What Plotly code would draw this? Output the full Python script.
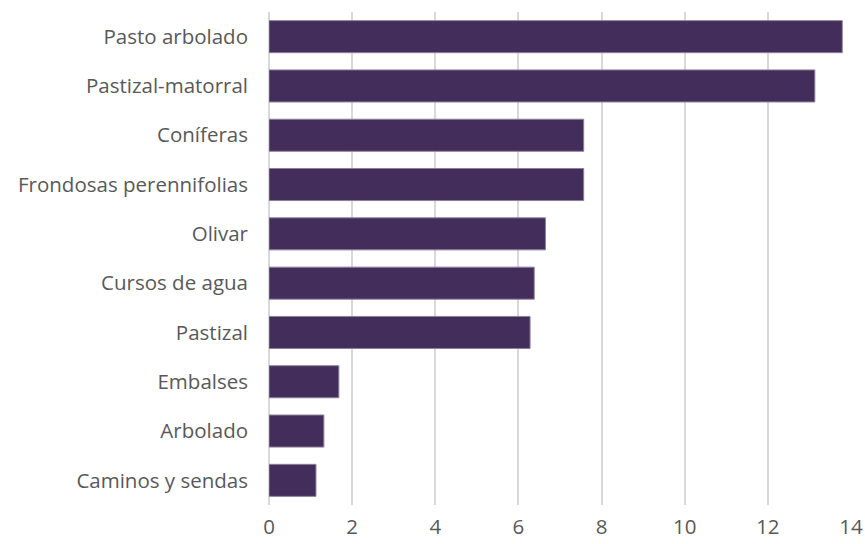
import plotly.graph_objects as go

categories = ["Pasto arbolado", "Pastizal-matorral", "Coníferas", "Frondosas perennifolias",
              "Olivar", "Cursos de agua", "Pastizal", "Embalses", "Arbolado", "Caminos y sendas"]
values = [13.79, 13.13, 7.57, 7.57, 6.65, 6.38, 6.28, 1.68, 1.32, 1.13]
x_ticks = [0, 2, 4, 6, 8, 10, 12, 14]

fig = go.Figure(go.Bar(
    x=values, y=categories, orientation="h",
    marker=dict(color="#432d5b", line=dict(color="#8c8199", width=1)),
    hoverinfo="skip",
))

font = dict(family="Open Sans, sans-serif", size=20.5, color="#595959")
fig.update_layout(
    width=865, height=544,
    margin=dict(l=269, r=14, t=12, b=39, autoexpand=False),
    plot_bgcolor="white", paper_bgcolor="white",
    bargap=0.35, showlegend=False, font=font,
    xaxis=dict(range=[0, 14], tickvals=x_ticks, showgrid=True, gridcolor="#d9d9d9", gridwidth=2,
               zeroline=True, zerolinecolor="#d9d9d9", zerolinewidth=2, ticks="",
               ticklabelstandoff=7, tickfont=font, fixedrange=True, automargin=False),
    yaxis=dict(autorange="reversed", showgrid=False, ticks="", ticklabelstandoff=20,
               tickfont=font, showline=False, automargin=False, fixedrange=True),
)

fig.write_html("out.html", config={"displayModeBar": False},
               post_script="document.body.style.margin='0';document.body.style.overflow='hidden';")
